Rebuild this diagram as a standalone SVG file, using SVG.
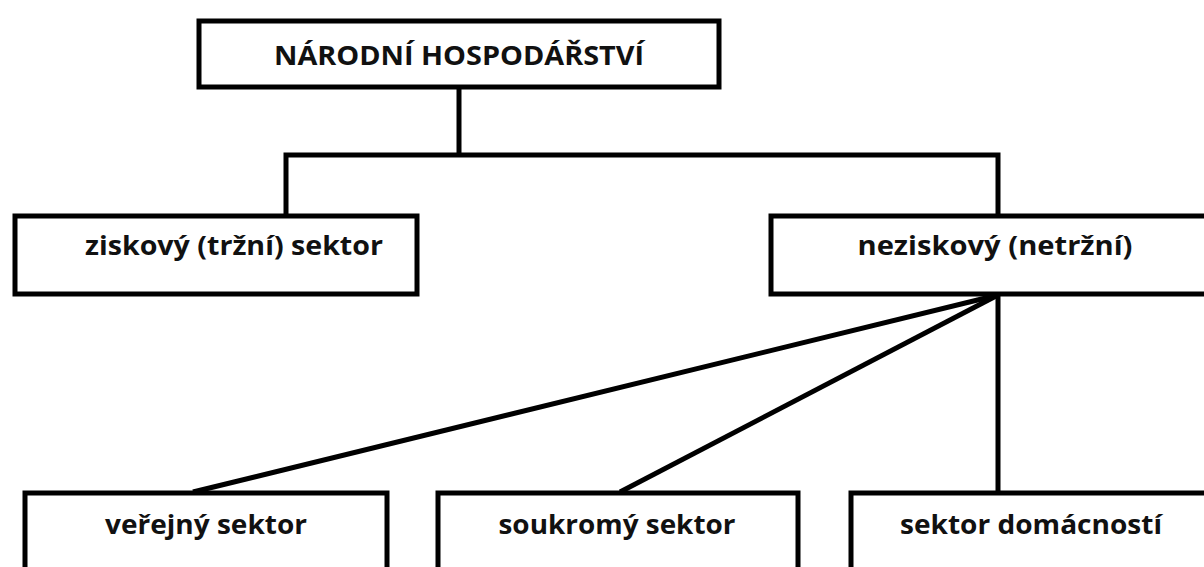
<svg xmlns="http://www.w3.org/2000/svg" width="1204" height="567" viewBox="0 0 1204 567">
<style>
.box{fill:#fff;stroke:#000;stroke-width:5}
.ln{stroke:#000;stroke-width:5;fill:none}
.t{font-family:"Open Sans","Liberation Sans",sans-serif;font-weight:bold;font-size:27px;fill:#111;text-anchor:middle}
</style>
<rect width="1204" height="567" fill="#fff"/>
<g id="connectors">
<polyline class="ln" points="459,88 459,155"/>
<polyline class="ln" points="286,215 286,155 998,155 998,215"/>
<line class="ln" x1="998" y1="295" x2="193" y2="492"/>
<line class="ln" x1="998" y1="295" x2="620" y2="492"/>
<line class="ln" x1="998" y1="295" x2="998" y2="492"/>
</g>
<g id="n-root"><rect class="box" x="199" y="21" width="520" height="66"/><text class="t" x="459" y="65" textLength="370" lengthAdjust="spacingAndGlyphs">NÁRODNÍ HOSPODÁŘSTVÍ</text></g>
<g id="n-zisk"><rect class="box" x="15" y="216" width="402" height="78"/><text class="t" x="234" y="255" textLength="298" lengthAdjust="spacingAndGlyphs">ziskový (tržní) sektor</text></g>
<g id="n-nezisk"><rect class="box" x="771" y="216" width="440" height="78"/><text class="t" x="995" y="255" textLength="275" lengthAdjust="spacingAndGlyphs">neziskový (netržní)</text></g>
<g id="n-verejny"><rect class="box" x="25" y="493" width="362" height="90"/><text class="t" x="206" y="534" textLength="202" lengthAdjust="spacingAndGlyphs">veřejný sektor</text></g>
<g id="n-soukromy"><rect class="box" x="438" y="493" width="360" height="90"/><text class="t" x="617" y="534" textLength="237" lengthAdjust="spacingAndGlyphs">soukromý sektor</text></g>
<g id="n-domacnosti"><rect class="box" x="851" y="493" width="370" height="90"/><text class="t" x="1031" y="534" textLength="262" lengthAdjust="spacingAndGlyphs">sektor domácností</text></g>
</svg>
